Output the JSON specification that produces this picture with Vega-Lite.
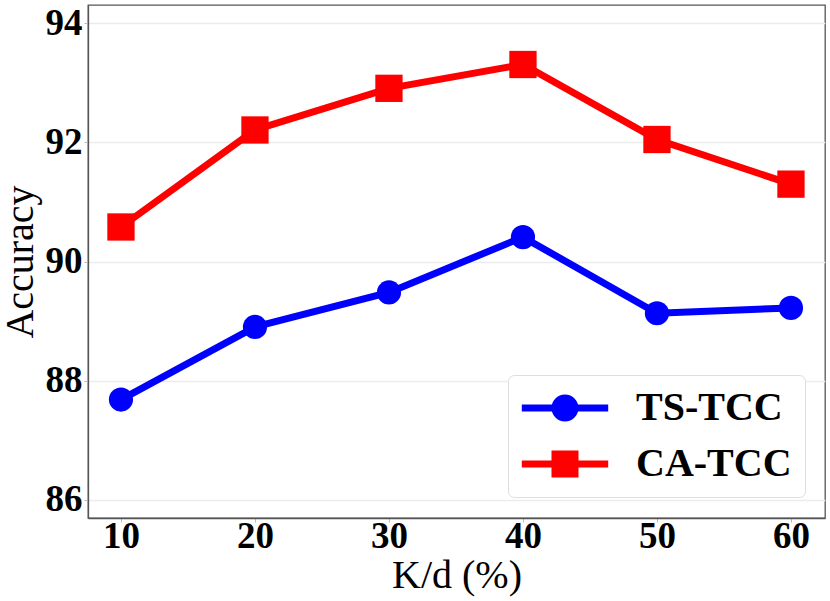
{
  "$schema": "https://vega.github.io/schema/vega-lite/v6.json",
  "autosize": {"type": "none"},
  "padding": {"left": 88, "top": 5, "right": 5, "bottom": 83},
  "width": 737,
  "height": 513,
  "background": "white",
  "config": {
    "view": {"stroke": "#555555", "strokeWidth": 1.3},
    "axis": {
      "labelFont": "Liberation Serif",
      "labelFontWeight": "bold",
      "labelFontSize": 37,
      "labelColor": "black",
      "titleFont": "Liberation Serif",
      "titleFontWeight": "normal",
      "titleFontSize": 40,
      "titleColor": "black",
      "domainColor": "#555555",
      "domainWidth": 1.3,
      "tickColor": "#bbbbbb",
      "tickSize": 4,
      "labelPadding": 2,
      "gridColor": "#ececec",
      "gridWidth": 1.5
    }
  },
  "data": {
    "values": [
      {"k": 10, "acc": 87.68, "model": "TS-TCC"},
      {"k": 20, "acc": 88.90, "model": "TS-TCC"},
      {"k": 30, "acc": 89.48, "model": "TS-TCC"},
      {"k": 40, "acc": 90.41, "model": "TS-TCC"},
      {"k": 50, "acc": 89.13, "model": "TS-TCC"},
      {"k": 60, "acc": 89.22, "model": "TS-TCC"},
      {"k": 10, "acc": 90.58, "model": "CA-TCC"},
      {"k": 20, "acc": 92.21, "model": "CA-TCC"},
      {"k": 30, "acc": 92.91, "model": "CA-TCC"},
      {"k": 40, "acc": 93.31, "model": "CA-TCC"},
      {"k": 50, "acc": 92.05, "model": "CA-TCC"},
      {"k": 60, "acc": 91.30, "model": "CA-TCC"}
    ]
  },
  "encoding": {
    "x": {
      "field": "k", "type": "quantitative",
      "scale": {"domain": [7.54, 62.54], "nice": false, "zero": false},
      "axis": {"values": [10, 20, 30, 40, 50, 60], "title": "K/d (%)", "grid": false, "labelPadding": -4, "titlePadding": 1}
    },
    "y": {
      "field": "acc", "type": "quantitative",
      "scale": {"domain": [85.69, 94.31], "nice": false, "zero": false},
      "axis": {"values": [86, 88, 90, 92, 94], "title": "Accuracy", "grid": true, "titlePadding": 5}
    },
    "color": {
      "field": "model", "type": "nominal",
      "scale": {"domain": ["TS-TCC", "CA-TCC"], "range": ["#0000ff", "#ff0000"]},
      "legend": {
        "orient": "none",
        "legendX": 420,
        "legendY": 370,
        "title": null,
        "symbolSize": 729,
        "symbolOpacity": 1,
        "symbolStrokeWidth": 0,
        "symbolOffset": 24,
        "labelOffset": 51,
        "labelFont": "Liberation Serif",
        "labelFontWeight": "bold",
        "labelFontSize": 40,
        "labelColor": "black",
        "fillColor": "white",
        "strokeColor": "#dddddd",
        "cornerRadius": 6,
        "padding": 13,
        "rowPadding": 16
      }
    }
  },
  "layer": [
    {"mark": {"type": "line", "strokeWidth": 7}},
    {
      "transform": [{"filter": "datum.model === 'TS-TCC'"}],
      "mark": {"type": "circle", "size": 585, "opacity": 1}
    },
    {
      "transform": [{"filter": "datum.model === 'CA-TCC'"}],
      "mark": {"type": "square", "size": 745, "opacity": 1}
    },
    {
      "transform": [{"filter": "false"}],
      "mark": {"type": "point", "filled": true, "opacity": 1},
      "encoding": {
        "shape": {
          "field": "model", "type": "nominal",
          "scale": {
            "domain": ["TS-TCC", "CA-TCC"],
            "range": [
              "M-3.2,-0.26 L3.2,-0.26 L3.2,0.26 L-3.2,0.26 Z M0,-1 A1,1 0 1,1 0,1 A1,1 0 1,1 0,-1 Z",
              "M-3.2,-0.26 L3.2,-0.26 L3.2,0.26 L-3.2,0.26 Z M-1,-1 L1,-1 L1,1 L-1,1 Z"
            ]
          }
        }
      }
    }
  ]
}
